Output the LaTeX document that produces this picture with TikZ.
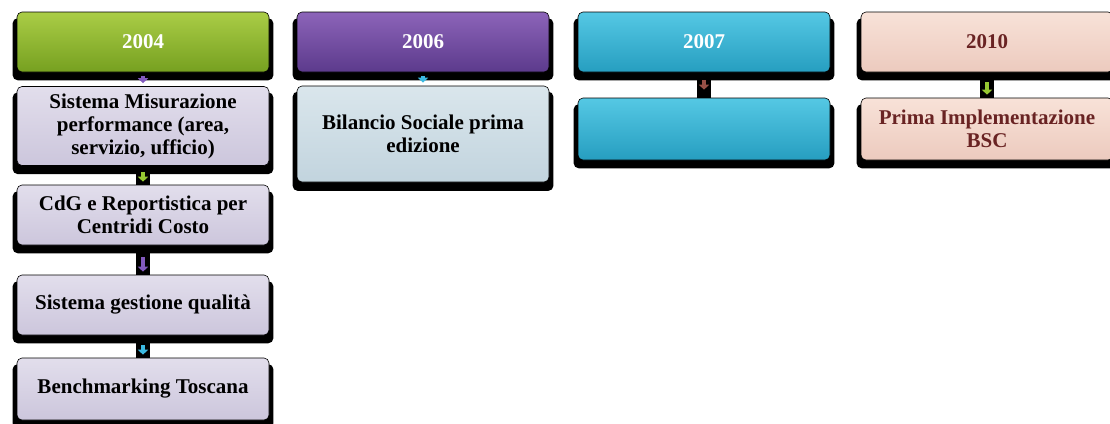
\documentclass[tikz,border=0pt]{standalone}
\usepackage{fontspec}
\setmainfont{Liberation Serif}
\usetikzlibrary{arrows.meta,positioning,shadows,backgrounds}

\definecolor{greenA}{RGB}{170,205,70}
\definecolor{greenB}{RGB}{118,160,32}
\definecolor{purpA}{RGB}{140,100,185}
\definecolor{purpB}{RGB}{92,58,140}
\definecolor{cyanA}{RGB}{85,200,228}
\definecolor{cyanB}{RGB}{38,158,192}
\definecolor{pinkA}{RGB}{248,226,216}
\definecolor{pinkB}{RGB}{236,202,190}
\definecolor{lavA}{RGB}{226,222,236}
\definecolor{lavB}{RGB}{204,198,220}
\definecolor{greyA}{RGB}{218,230,236}
\definecolor{greyB}{RGB}{194,212,222}
\definecolor{darkred}{RGB}{105,35,35}
\definecolor{arrPurp}{RGB}{130,90,190}
\definecolor{arrGreen}{RGB}{150,200,50}
\definecolor{arrCyan}{RGB}{60,185,225}
\definecolor{arrBrown}{RGB}{150,80,70}

\begin{document}
\begin{tikzpicture}[x=1pt, y=-1pt,
  every node/.style={font=\bfseries\fontsize{21}{23}\selectfont, align=center},
  tile/.style={draw=black, line width=.6pt, rounded corners=5pt,
    minimum width=252pt, inner sep=0pt,
    drop shadow={shadow xshift=0pt, shadow yshift=-7pt, shadow scale=1.035, opacity=1, fill=black}},
  year/.style={tile, minimum height=60pt, text=white},
  link/.style={line width=14pt, black},
  pip/.style={line width=4.5pt, -{Triangle[width=10pt,length=5pt]}},
]
\useasboundingbox (0,0) rectangle (1110,423);

% column 2004
\node[year, top color=greenA, bottom color=greenB] (y04) at (143,42) {2004};
\node[tile, top color=lavA, bottom color=lavB, minimum height=79pt] (misura) at (143,126) {Sistema Misurazione\\performance (area,\\servizio, ufficio)};
\node[tile, top color=lavA, bottom color=lavB, minimum height=60pt] (cdg) at (143,215) {CdG e Reportistica per\\Centridi Costo};
\node[tile, top color=lavA, bottom color=lavB, minimum height=60pt] (qual) at (143,305) {Sistema gestione qualità};
\node[tile, top color=lavA, bottom color=lavB, minimum height=62pt] (bench) at (143,389) {Benchmarking Toscana};

% column 2006
\node[year, top color=purpA, bottom color=purpB] (y06) at (423,42) {2006};
\node[tile, top color=greyA, bottom color=greyB, minimum height=96pt] (bilancio) at (423,134) {Bilancio Sociale prima\\edizione};

% column 2007
\node[year, top color=cyanA, bottom color=cyanB] (y07) at (704,42) {2007};
\node[tile, top color=cyanA, bottom color=cyanB, minimum height=62pt] (vuoto) at (704,129) {};

% column 2010
\node[year, top color=pinkA, bottom color=pinkB, text=darkred] (y10) at (987,42) {2010};
\node[tile, top color=pinkA, bottom color=pinkB, minimum height=62pt, text=darkred] (bsc) at (987,129) {Prima Implementazione\\BSC};

\begin{scope}[on background layer]
\draw[link] (misura.south) -- (cdg.north);
\draw[link] (cdg.south) -- (qual.north);
\draw[link] (qual.south) -- (bench.north);
\draw[link] (y07.south) -- (vuoto.north);
\draw[link] (y10.south) -- (bsc.north);
\end{scope}

\draw[pip, arrPurp, shorten <=4pt, shorten >=3pt] (y04.south) -- (misura.north);
\draw[pip, arrGreen, shorten <=6pt, shorten >=3pt] (misura.south) -- (cdg.north);
\draw[pip, arrPurp, shorten <=12pt, shorten >=3pt] (cdg.south) -- (qual.north);
\draw[pip, arrCyan, shorten <=10pt, shorten >=3pt] (qual.south) -- (bench.north);
\draw[pip, arrCyan, shorten <=4pt, shorten >=3pt] (y06.south) -- (bilancio.north);
\draw[pip, arrBrown, shorten <=8pt, shorten >=8pt] (y07.south) -- (vuoto.north);
\draw[pip, arrGreen, shorten <=10pt, shorten >=3pt] (y10.south) -- (bsc.north);
\end{tikzpicture}
\end{document}
